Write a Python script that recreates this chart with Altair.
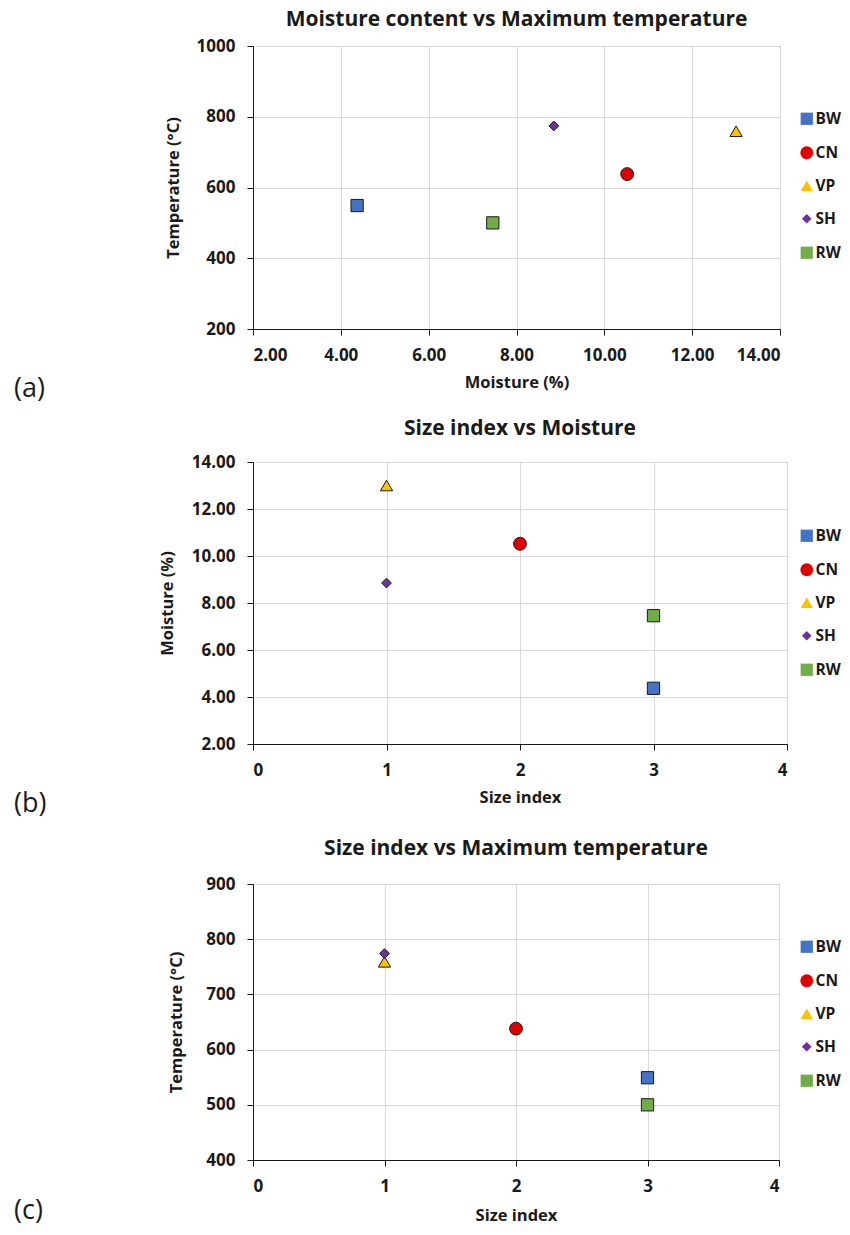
import altair as alt
import pandas as pd

# ---- data ----
codes = ["BW", "CN", "VP", "SH", "RW"]
moisture = [4.37, 10.52, 13.00, 8.85, 7.46]        # %
max_temp = [549, 638, 759, 774, 500]                # deg C
size_index = [3, 2, 1, 1, 3]

fills = ["#4472C4", "#E00000", "#FFC000", "#7030A0", "#70AD47"]
shapes = ["square", "circle", "triangle-up", "diamond", "square"]
marker_sizes = [150, 165, 150, 95, 150]

df = pd.DataFrame({"code": codes, "moisture": moisture, "temp": max_temp, "sidx": size_index})

FONT = "Open Sans"
INK = "#1a1a1a"
TAGX = -239


def panel(xf, yf, xtitle, ytitle, xdom, xvals, xfmt, ydom, yvals, yfmt,
          title, tag, W, H, ytx, xty, legx, legy, toff, tag_dy=60, tag_extra=0):
    leg = alt.Legend(title=None, orient="none", legendX=legx, legendY=legy,
                     labelFont=FONT, labelFontSize=15.5, labelFontWeight="bold",
                     labelColor=INK, rowPadding=16, labelOffset=1,
                     symbolStrokeColor=INK, symbolStrokeWidth=1, symbolOpacity=1,
                     padding=0)
    pts = alt.Chart(df).mark_point(filled=True, opacity=1, stroke=INK, strokeWidth=1).encode(
        x=alt.X(f"{xf}:Q", scale=alt.Scale(domain=xdom, nice=False, zero=False),
                axis=alt.Axis(values=xvals, format=xfmt, title=xtitle,
                              titleY=xty, titleBaseline="middle")),
        y=alt.Y(f"{yf}:Q", scale=alt.Scale(domain=ydom, nice=False, zero=False),
                axis=alt.Axis(values=yvals, format=yfmt, title=ytitle,
                              titleX=ytx, titleBaseline="middle")),
        color=alt.Color("code:N", scale=alt.Scale(domain=codes, range=fills), legend=leg),
        shape=alt.Shape("code:N", scale=alt.Scale(domain=codes, range=shapes), legend=leg),
        size=alt.Size("code:N", scale=alt.Scale(type="ordinal", domain=codes, range=marker_sizes), legend=leg),
    )
    tagdf = pd.DataFrame({"t": [tag]})
    tagm = alt.Chart(tagdf).mark_text(align="left", baseline="middle", font=FONT,
                                      fontSize=27, color=INK).encode(
        text="t:N", x=alt.value(TAGX), y=alt.value(H + tag_dy))
    layers = [pts, tagm]
    if tag_extra:
        ghost = alt.Chart(tagdf).mark_text(align="left", baseline="middle", font=FONT,
                                           fontSize=27, opacity=0).encode(
            text="t:N", x=alt.value(TAGX), y=alt.value(H + tag_dy + tag_extra))
        layers.append(ghost)
    return alt.layer(*layers).properties(
        width=W, height=H,
        title=alt.Title(title, font=FONT, fontSize=21, fontWeight="bold", color=INK,
                        offset=toff, anchor="middle"))


pa = panel("moisture", "temp", "Moisture (%)", "Temperature (°C)",
           [2, 14], [2, 4, 6, 8, 10, 12, 14], ".2f",
           [200, 1000], [200, 400, 600, 800, 1000], "d",
           "Moisture content vs Maximum temperature", "(a)",
           527, 283, -80, 53, 546, 65, 7)
pb = panel("sidx", "moisture", "Size index", "Moisture (%)",
           [0, 4], [0, 1, 2, 3, 4], "d",
           [2, 14], [2, 4, 6, 8, 10, 12, 14], ".2f",
           "Size index vs Moisture", "(b)",
           534, 282, -86, 53, 546, 66, 14, tag_extra=5)
pc = panel("sidx", "temp", "Size index", "Temperature (°C)",
           [0, 4], [0, 1, 2, 3, 4], "d",
           [400, 900], [400, 500, 600, 700, 800, 900], "d",
           "Size index vs Maximum temperature", "(c)",
           526, 276, -77, 55, 546, 55, 16, tag_dy=51)

chart = alt.vconcat(pa, pb, pc, spacing=14).resolve_scale(
    x="independent", y="independent", color="independent",
    shape="independent", size="independent"
).resolve_legend(
    color="independent", shape="independent", size="independent"
).properties(
    padding={"left": 5, "top": 0, "right": 0, "bottom": 0},
    background="white"
).configure_view(
    stroke=INK, strokeWidth=1
).configure_axis(
    domainColor=INK, domainWidth=1, tickColor=INK, tickSize=6, tickWidth=1,
    gridColor="#D9D9D9", gridWidth=1,
    labelFont=FONT, labelFontSize=17, labelFontWeight="bold", labelColor=INK,
    labelPadding=12,
    titleFont=FONT, titleFontSize=16.5, titleFontWeight="bold", titleColor=INK
)

chart.save("out.html", embed_options={"renderer": "svg", "actions": False})
